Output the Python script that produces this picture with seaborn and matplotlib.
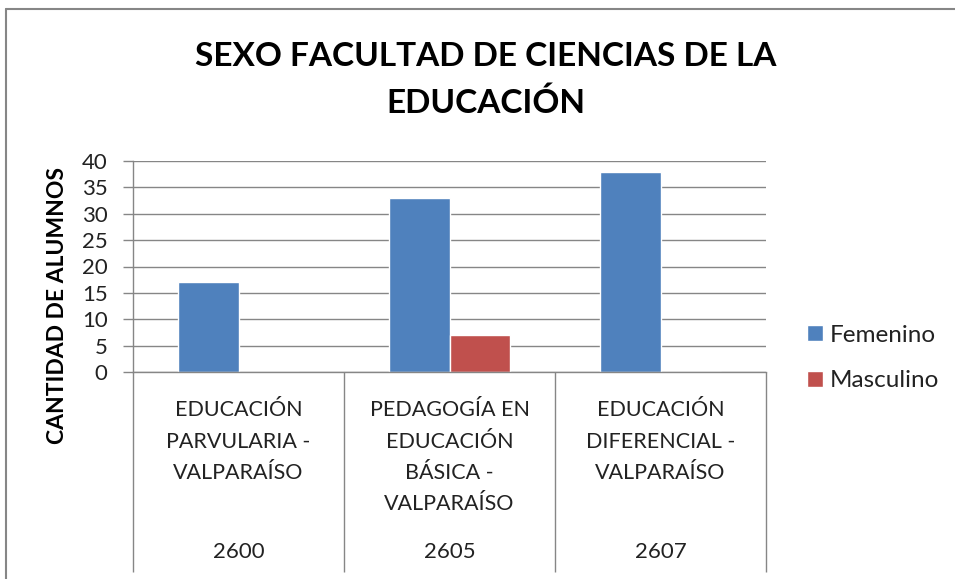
import numpy as np
import pandas as pd
import matplotlib
matplotlib.use("Agg")
import matplotlib.pyplot as plt
import matplotlib.transforms as mtransforms
from matplotlib.lines import Line2D
import seaborn as sns

# data
codigos = ["2600", "2605", "2607"]
carreras = [
    "EDUCACIÓN\nPARVULARIA -\nVALPARAÍSO",
    "PEDAGOGÍA EN\nEDUCACIÓN\nBÁSICA -\nVALPARAÍSO",
    "EDUCACIÓN\nDIFERENCIAL -\nVALPARAÍSO",
]
sexos = ["Femenino", "Masculino"]
femenino = [17, 33, 38]
masculino = [0, 7, 0]
colores = ["#4F81BD", "#C0504D"]
yticks = [0, 5, 10, 15, 20, 25, 30, 35, 40]

df = pd.DataFrame({
    "codigo": codigos * 2,
    "sexo": [sexos[0]] * 3 + [sexos[1]] * 3,
    "alumnos": femenino + masculino,
})

sns.set_style("white")
plt.rcParams["font.family"] = ["Lato", "DejaVu Sans"]

grey = "#868686"
txt = "#222222"
W, H = 955, 579
fig = plt.figure(figsize=(W / 100, H / 100), dpi=100)
ax = fig.add_axes([133 / W, 1 - 372 / H, (766 - 133) / W, (372 - 161) / H])

sns.barplot(data=df, x="codigo", y="alumnos", hue="sexo", order=codigos,
            hue_order=sexos, palette=colores, width=0.57, saturation=1,
            ax=ax, legend=True)

ax.set_xlim(-0.5, 2.5)
ax.set_ylim(0, 40)
ax.set_yticks(yticks)
ax.yaxis.grid(True, color=grey, linewidth=1)
ax.set_axisbelow(True)
ax.set_xlabel("")
ax.set_ylabel("")
for s in ["top", "right"]:
    ax.spines[s].set_visible(False)
for s in ["left", "bottom"]:
    ax.spines[s].set_color(grey)
    ax.spines[s].set_linewidth(1)

ax.tick_params(axis="y", which="major", left=True, length=7.2, color=grey,
               width=1, labelsize=16, labelcolor=txt, pad=11)
ax.set_xticks(range(len(codigos)))
ax.set_xticklabels(carreras, linespacing=1.7)
ax.tick_params(axis="x", which="major", bottom=False, labelsize=15.5,
               labelcolor=txt, pad=17)
ax.set_xticks([-0.5, 0.5, 1.5, 2.5], minor=True)
ax.tick_params(axis="x", which="minor", bottom=True, length=144, color=grey,
               width=1)

trans = mtransforms.blended_transform_factory(ax.transData, ax.transAxes)
for i, c in enumerate(codigos):
    ax.text(i, -180 / 211, c, transform=trans, ha="center", va="center",
            fontsize=16, color=txt)

handles, labels = ax.get_legend_handles_labels()
ax.legend(handles, labels, loc="center left",
          bbox_to_anchor=(807 / W, 1 - 358 / H), bbox_transform=fig.transFigure,
          frameon=False, fontsize=17.5, handlelength=0.65, handleheight=0.65,
          handletextpad=0.3, labelspacing=1.0, borderaxespad=0, borderpad=0,
          labelcolor=txt)

fig.text(486 / W, 1 - 80 / H, "SEXO FACULTAD DE CIENCIAS DE LA\nEDUCACIÓN",
         ha="center", va="center", fontsize=24, fontweight="bold",
         linespacing=1.65, color="black")
fig.text(57 / W, 1 - 306 / H, "CANTIDAD DE ALUMNOS", rotation=90,
         ha="center", va="center", fontsize=16.5, fontweight="bold",
         color="black")

# outer chart border (top and left visible in reference)
fig.add_artist(Line2D([6 / W, 1], [1 - 9 / H, 1 - 9 / H], color=grey,
                      linewidth=1.5, transform=fig.transFigure))
fig.add_artist(Line2D([6 / W, 6 / W], [0, 1 - 9 / H], color=grey,
                      linewidth=1.5, transform=fig.transFigure))

fig.savefig("out.png", dpi=100, facecolor="white")
